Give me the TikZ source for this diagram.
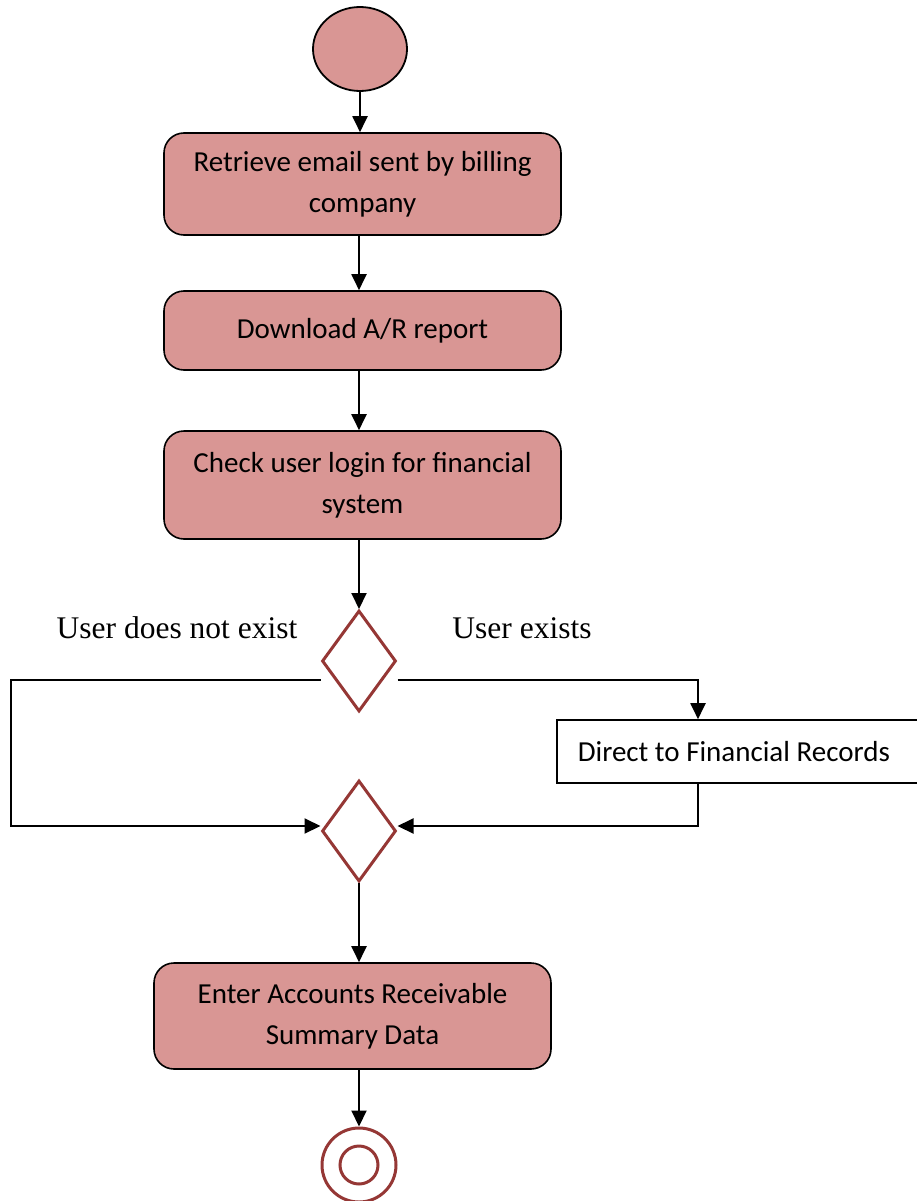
\documentclass[tikz,border=0pt]{standalone}
\usepackage{fontspec}
\newfontfamily\boxfont{Carlito}
\newfontfamily\labelfont{Liberation Serif}
\usetikzlibrary{shapes.geometric,arrows.meta}
\definecolor{actfill}{HTML}{D99694}
\definecolor{darkred}{HTML}{953735}
\tikzset{
  x=1pt, y=-1pt,
  flow/.style={line width=2pt, -{Triangle[length=16pt,width=15pt]}},
  activity/.style={draw=black, line width=1.6pt, fill=actfill, rounded corners=20pt,
    minimum width=397pt, align=center, font=\boxfont\fontsize{29}{41}\selectfont, inner sep=0pt},
  decision/.style={diamond, draw=darkred, line width=3pt, fill=white, inner sep=0pt,
    minimum width=74pt, minimum height=101pt},
  guard/.style={font=\labelfont\fontsize{31.5}{36}\selectfont, inner sep=0pt}
}
\begin{document}
\begin{tikzpicture}
\useasboundingbox (0,0) rectangle (917,1201);

% initial node
\node[ellipse, draw=black, line width=1.8pt, fill=actfill, inner sep=0pt,
  minimum width=94pt, minimum height=84pt] (start) at (360,49) {};

% activities
\node[activity, minimum height=102pt] (b1) at (362.5,184) {Retrieve email sent by billing\\company};
\node[activity, minimum height=79pt] (b2) at (362.5,330.5) {Download A/R report};
\node[activity, minimum height=108pt] (b3) at (362.5,485) {Check user login for financial\\system};

% decision and merge
\node[decision] (d1) at (359,661) {};
\node[decision] (d2) at (359,831) {};

\node[guard] (gno) at (177,628) {User does not exist};
\node[guard] (gyes) at (522,628) {User exists};

\node[draw=black, line width=1.6pt, fill=white, anchor=west, inner xsep=21pt, inner ysep=0pt,
  minimum height=63pt, font=\boxfont\fontsize{29}{41}\selectfont] (dir) at (556,751.5)
  {\makebox[319pt][l]{Direct to Financial Records}};

\node[activity, minimum height=106pt] (b4) at (352.5,1016) {Enter Accounts Receivable\\Summary Data};

% final node
\node[circle, draw=darkred, line width=3pt, fill=white, inner sep=0pt, minimum size=74pt] (fin) at (359,1165) {};
\node[circle, draw=darkred, line width=3pt, inner sep=0pt, minimum size=38pt] (finin) at (fin.center) {};

% branch columns
\coordinate (lx) at (11,0);
\coordinate (rx) at (698,0);

% connectors
\draw[flow] (start.south) -- (start.south |- b1.north);
\draw[flow] (b1.south -| d1.north) -- (b2.north -| d1.north);
\draw[flow] (b2.south -| d1.north) -- (b3.north -| d1.north);
\draw[flow] (b3.south -| d1.north) -- (d1.north);
\draw[flow] ([yshift=-19pt]d1.west) -| ([yshift=5pt]d2.west -| lx) -- ([yshift=5pt]d2.west);
\draw[flow] ([yshift=-19pt]d1.east) -| (rx |- dir.north);
\draw[flow] (rx |- dir.south) |- ([yshift=5pt]d2.east);
\draw[flow] (d2.south) -- (d2.south |- b4.north);
\draw[flow] (b4.south -| fin.north) -- (fin.north);
\end{tikzpicture}
\end{document}
